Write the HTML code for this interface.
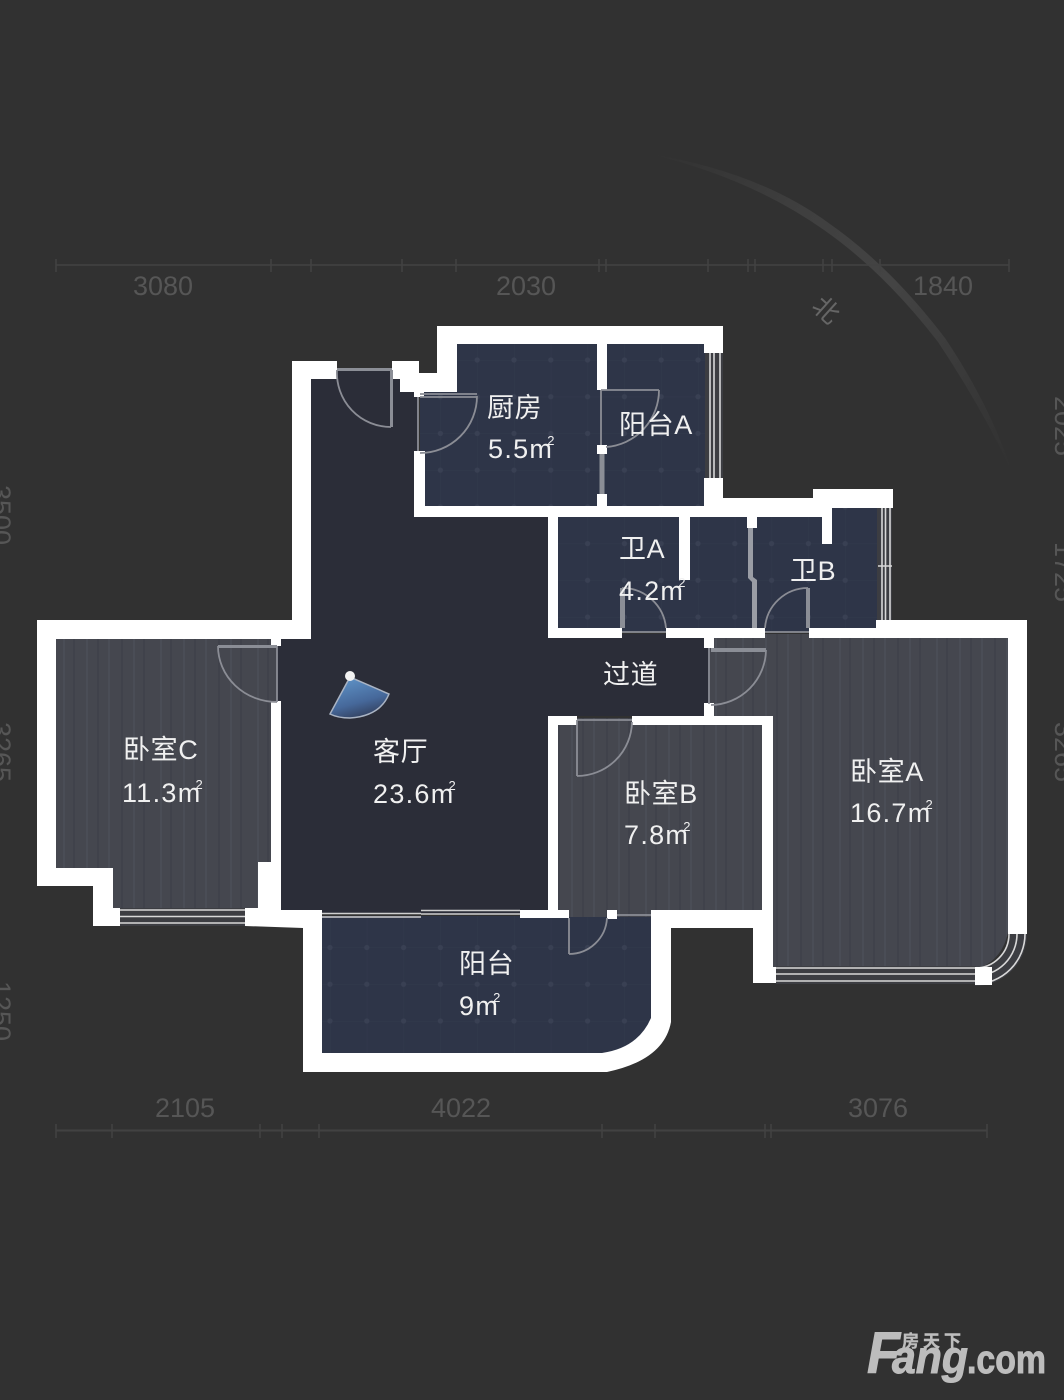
<!DOCTYPE html>
<html><head><meta charset="utf-8"><title>户型图</title>
<style>html,body{margin:0;padding:0;background:#313131}svg{display:block}
.l{font-family:"Liberation Sans","Noto Sans CJK SC",sans-serif;font-size:27px;fill:#f0f0f0;letter-spacing:.6px}
.a{letter-spacing:1.300px}
.d{font-family:"Liberation Sans",sans-serif;font-size:27px;fill:#565656}
.s{font-size:13px}
</style></head><body>
<svg width="1064" height="1400" viewBox="0 0 1064 1400" xmlns="http://www.w3.org/2000/svg">
<defs>
<pattern id="tile" patternUnits="userSpaceOnUse" x="330" y="360" width="36.8" height="36.72">
<rect x="-1" y="-1" width="39" height="39" fill="#2e3548"/>
<path d="M0 0H36.8M0 0V36.72" stroke="#333a4d" stroke-width="1"/>
<circle cx="0" cy="0" r="2.6" fill="#394053"/><circle cx="36.8" cy="0" r="2.6" fill="#394053"/><circle cx="0" cy="36.72" r="2.6" fill="#394053"/><circle cx="36.8" cy="36.72" r="2.6" fill="#394053"/>
</pattern>
<pattern id="wood" patternUnits="userSpaceOnUse" x="56" y="0" width="97" height="400">
<rect width="97" height="400" fill="#45474f"/>
<path d="M8 0V400M31 0V400M53 0V400M78 0V400" stroke="#50535c" stroke-width="1"/>
<path d="M18 0V400M42 0V400M66 0V400M88 0V400" stroke="#3e4049" stroke-width="1.4"/>
</pattern>
<linearGradient id="arcg" gradientUnits="userSpaceOnUse" x1="650" y1="155" x2="1012" y2="475">
<stop offset="0" stop-color="#424242" stop-opacity="0"/><stop offset=".3" stop-color="#424242" stop-opacity=".8"/><stop offset=".55" stop-color="#444"/><stop offset="1" stop-color="#424242" stop-opacity="0"/>
</linearGradient>
<linearGradient id="fan" x1="0.3" y1="0" x2="0.7" y2="1">
<stop offset="0" stop-color="#5f93c7"/><stop offset=".6" stop-color="#46689a"/><stop offset="1" stop-color="#2f3a55"/>
</linearGradient>
</defs>
<rect width="1064" height="1400" fill="#313131"/>

<!-- north arc -->
<path d="M650 154Q760 172 830 224Q890 266 945 338Q990 405 1012 472Q982 408 938 342Q884 272 824 230Q750 178 650 154Z" fill="url(#arcg)"/>

<!-- dimension lines -->
<g stroke="#424242" stroke-width="1.5" fill="none">
<path d="M56 265H1009"/>
<path d="M56 259V272M271 259V272M311 259V272M402 259V272M456 259V272M599 259V272M606 259V272M708 259V272M748 259V272M755 259V272M823 259V272M832 259V272M880 259V272M1009 259V272"/>
<path d="M56 1130.500H987" stroke-width="2"/>
<path d="M56 1124V1138M112 1124V1138M260 1124V1138M282 1124V1138M319 1124V1138M602 1124V1138M655 1124V1138M765 1124V1138M771 1124V1138M987 1124V1138"/>
</g>
<g class="d">
<text class="d" x="163" y="295" text-anchor="middle">3080</text>
<text class="d" x="526" y="295" text-anchor="middle">2030</text>
<text class="d" x="943" y="295" text-anchor="middle">1840</text>
<text class="d" x="185" y="1117" text-anchor="middle">2105</text>
<text class="d" x="461" y="1117" text-anchor="middle">4022</text>
<text class="d" x="878" y="1117" text-anchor="middle">3076</text>
<text class="d" transform="translate(-8,515) rotate(90)" text-anchor="middle">3500</text>
<text class="d" transform="translate(-8,752) rotate(90)" text-anchor="middle">3265</text>
<text class="d" transform="translate(-8,1011) rotate(90)" text-anchor="middle">1250</text>
<text class="d" transform="translate(1055,426) rotate(90)" text-anchor="middle">2025</text>
<text class="d" transform="translate(1055,572) rotate(90)" text-anchor="middle">1725</text>
<text class="d" transform="translate(1055,752) rotate(90)" text-anchor="middle">3265</text>
</g>
<text transform="translate(826,310) rotate(42)" text-anchor="middle" y="9" style="font-family:'Noto Sans CJK SC',sans-serif;font-size:26px;fill:#666">北</text>

<!-- rooms -->
<path d="M311 379H337V371H392V379H400V392H418V517H552V634H710V716H552V914H277V634H311Z" fill="#2b2d38"/>
<path d="M457 344H601V506H420V392H457Z" fill="url(#tile)"/>
<rect x="601" y="344" width="104" height="162" fill="url(#tile)"/>
<rect x="555" y="515" width="323" height="117" fill="url(#tile)"/>
<rect x="830" y="506" width="48" height="15" fill="url(#tile)"/>
<path d="M322 916H652V1018Q638 1048 602 1054H322Z" fill="url(#tile)"/>
<path d="M56 639H277V862H258V910H113V868H56Z" fill="url(#wood)"/>
<path d="M710 634H1008V932Q1003 958 980 968H773V716H710Z" fill="url(#wood)"/>
<path d="M558 725H577V718H632V725H763V912H558Z" fill="url(#wood)"/>
<rect x="569" y="910" width="84" height="7" fill="url(#wood)"/>

<!-- window backgrounds -->
<g fill="#3c3d42">
<rect x="120" y="908" width="126" height="18"/>
<rect x="776" y="966" width="200" height="18"/>
<rect x="705" y="352" width="18" height="128"/>
<rect x="877" y="506" width="15" height="116"/>
</g>
<path d="M1017.500 934A42.500 42.500 0 0 1 975 976.500" fill="none" stroke="#3c3d42" stroke-width="19"/>
<g fill="none" stroke="#d8d8d8" stroke-width="1.600">
<path d="M120 910H246M120 916.500H246M120 923H246"/>
<path d="M776 968H976M776 974H976M776 981H976"/>
<path d="M710 352V480M714 352V480M720 352V480"/>
<path d="M882 506V622M885.500 506V622M890 506V622M878 566H892"/>
<path d="M1009 934A34 34 0 0 1 975 968M1017 934A42 42 0 0 1 975 976M1025 934A50 50 0 0 1 975 984"/>
<path d="M322 913.500H421M322 917H421M421 910.500H520M421 914H520" stroke="#cfcfcf"/>
</g>

<!-- walls -->
<g fill="#fff">
<path d="M292 361H337V379H311V639H281V646H271V639H56V868H113V908H120V926H93V886H37V620H292Z"/>
<path d="M245 908H258V862H271V701H281V910H322V1053H602Q638 1048 651 1018V910H671V1022Q664 1060 607 1072H303V928L245 926Z"/>
<path d="M392 361H419V373H437V326H723V353H704V344H607V390H597V344H457V392H424V397H414V392H400V379H392Z"/>
<path d="M414 451H425V506H597V494H607V506H704V478H723V498H813V489H893V508H832V544H822V517H757V528H747V517H690V580H679V517H558V628H622V638H548V517H414Z"/>
<rect x="597" y="445" width="10" height="9"/>
<rect x="666" y="628" width="99" height="10"/>
<rect x="704" y="638" width="10" height="10"/>
<rect x="704" y="703" width="10" height="13"/>
<path d="M809 628H876V620H1027V934H1008V638H809Z"/>
<path d="M548 716H577V725H558V910H569V918H520V910H548Z"/>
<path d="M632 716H773V967H776V983H753V928H651V910H762V725H632Z"/>
<rect x="975" y="967" width="17" height="18"/>
<rect x="607" y="910" width="10" height="9"/>
<rect x="876" y="620" width="17" height="10"/>
</g>

<!-- doors -->
<g fill="none" stroke="#8b8d95" stroke-width="1.800">
<path d="M337 370H392M391 370V427M337 370A54 54 0 0 0 391 427"/>
<path d="M418 397V451M420 394H477M420 397H477M477 396A57 57 0 0 1 420 453"/>
<path d="M601 390H659M601 390V445M659 390A57 57 0 0 1 606 447"/>
<path d="M622 588V628M622 632H666M622 588A44 44 0 0 1 666 628" />
<path d="M808 588V628M765 632H809M808 588A43 43 0 0 0 765 628"/>
<path d="M709 648V704M711 650H766M766 650A56 56 0 0 1 711 705"/>
<path d="M577 720V776M577 720H632M577 776A55 55 0 0 0 632 722"/>
<path d="M569 918V954M569 954A38 38 0 0 0 607 918"/>
<path d="M277 646V702M218 646H277M218 646A59 56 0 0 0 277 702"/>
<path d="M617 915H651"/>
</g>
<g fill="#8b8e96">
<rect x="620" y="588" width="5" height="40"/>
<rect x="806" y="588" width="4" height="40"/>
<rect x="599.500" y="454" width="5" height="40"/>
<path d="M748 528H753V577L757 580V628H752V582L748 578Z" fill="#9a9da5"/>
<rect x="218" y="645" width="59" height="3"/>
<rect x="711" y="648" width="55" height="4"/>
<rect x="337" y="368" width="55" height="3"/>
<rect x="390" y="370" width="3" height="57"/>
</g>

<!-- view cone -->
<path d="M350 677L389 694Q380 716 350 718Q338 718 330 714Z" fill="url(#fan)" stroke="#aab4c4" stroke-width="1.500"/>
<circle cx="350" cy="676" r="5" fill="#f2f2f2"/>

<!-- labels -->
<text class="l" x="487" y="417">厨房</text>
<text class="l a" x="488" y="458">5.5m<tspan class="s" dx="-6" dy="-13">2</tspan></text>
<text class="l" x="619" y="434">阳台A</text>
<text class="l" x="619" y="558">卫A</text>
<text class="l a" x="619" y="600">4.2m<tspan class="s" dx="-6" dy="-13">2</tspan></text>
<text class="l" x="790" y="580">卫B</text>
<text class="l" x="603" y="684">过道</text>
<text class="l" x="123" y="759">卧室C</text>
<text class="l a" x="122" y="802">11.3m<tspan class="s" dx="-6" dy="-13">2</tspan></text>
<text class="l" x="373" y="761">客厅</text>
<text class="l a" x="373" y="803">23.6m<tspan class="s" dx="-6" dy="-13">2</tspan></text>
<text class="l" x="624" y="803">卧室B</text>
<text class="l a" x="624" y="844">7.8m<tspan class="s" dx="-6" dy="-13">2</tspan></text>
<text class="l" x="459" y="973">阳台</text>
<text class="l a" x="459" y="1015">9m<tspan class="s" dx="-6" dy="-13">2</tspan></text>
<text class="l" x="850" y="781">卧室A</text>
<text class="l a" x="850" y="822">16.7m<tspan class="s" dx="-6" dy="-13">2</tspan></text>

<!-- logo -->
<g fill="#bdbdbd" stroke="#bdbdbd" stroke-width="1" style="font-family:'Liberation Sans',sans-serif;font-weight:bold;font-style:italic">
<text x="867" y="1373" font-size="58" textLength="33" lengthAdjust="spacingAndGlyphs">F</text>
<text x="892" y="1373" font-size="46" textLength="76" lengthAdjust="spacingAndGlyphs">ang</text>
<text x="967" y="1373" font-size="40" textLength="79" lengthAdjust="spacingAndGlyphs" style="font-style:normal">.com</text>
<text x="902" y="1347" font-size="17" textLength="59" stroke-width=".4" style="font-family:'Noto Sans CJK SC',sans-serif;font-style:normal">房天下</text>
</g>
</svg>
</body></html>
